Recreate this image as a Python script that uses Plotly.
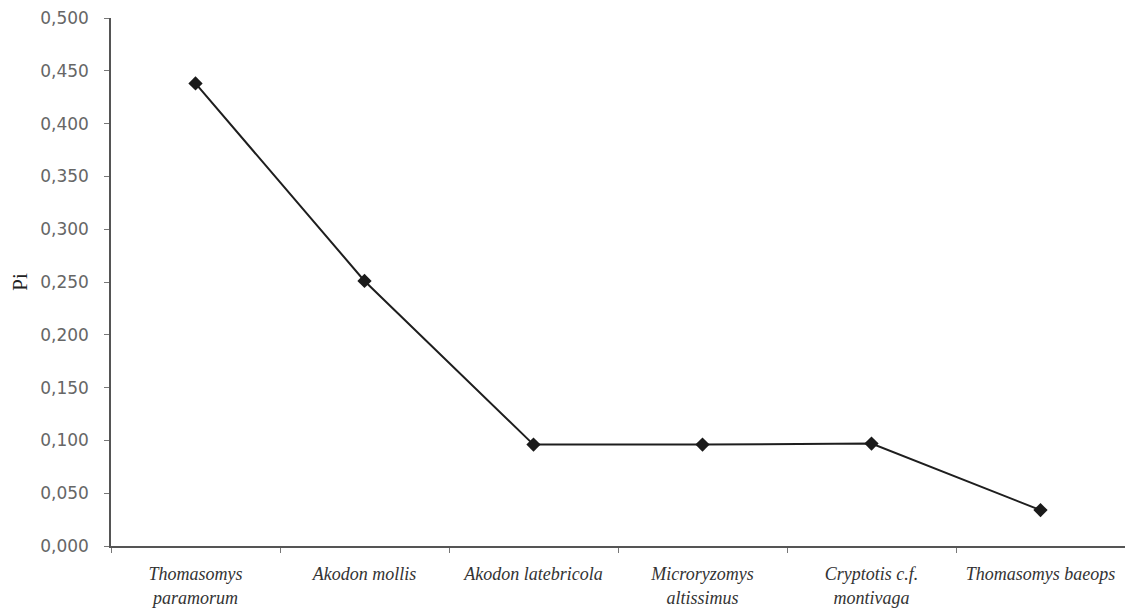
import plotly.graph_objects as go

species = [
    "Thomasomys<br>paramorum",
    "Akodon mollis",
    "Akodon latebricola",
    "Microryzomys<br>altissimus",
    "Cryptotis c.f.<br>montivaga",
    "Thomasomys baeops",
]
pi_values = [0.438, 0.251, 0.096, 0.096, 0.097, 0.034]
y_ticks = [0.0, 0.05, 0.10, 0.15, 0.20, 0.25, 0.30, 0.35, 0.40, 0.45, 0.50]

fig = go.Figure()
fig.add_trace(go.Scatter(
    x=species, y=pi_values, mode="lines+markers",
    line=dict(color="#1e1e1e", width=2),
    marker=dict(symbol="diamond", size=11, color="#1a1a1a"),
    showlegend=False,
))

# page body has an 8px margin, so the figure is offset by (8, 8)
fig.update_layout(
    width=1117, height=603,
    margin=dict(l=103, r=0, t=10, b=65),
    plot_bgcolor="white", paper_bgcolor="white",
    separators=",.",
)
fig.update_xaxes(
    type="category", tickson="boundaries", range=[-0.5, 5.5],
    showline=True, linecolor="#555555", linewidth=1.5,
    ticks="outside", ticklen=5, tickcolor="#777777",
    showgrid=False, zeroline=False,
    tickfont=dict(family="Liberation Serif", size=18, color="#333333", style="italic"),
    ticklabelstandoff=11,
    ticklabeloverflow="allow",
    automargin=False,
)
fig.update_yaxes(
    range=[0, 0.5], tickvals=y_ticks, tickformat=".3f",
    showline=True, linecolor="#555555", linewidth=1.5,
    ticks="outside", ticklen=5, tickcolor="#777777",
    showgrid=False, zeroline=False,
    tickfont=dict(family="DejaVu Sans", size=17, color="#666666"),
    ticklabelstandoff=12,
    ticklabeloverflow="allow",
    title=dict(text="Pi", font=dict(family="Liberation Serif", size=21, color="#222222"), standoff=14),
    automargin=False,
)

fig.write_html("out.html")
